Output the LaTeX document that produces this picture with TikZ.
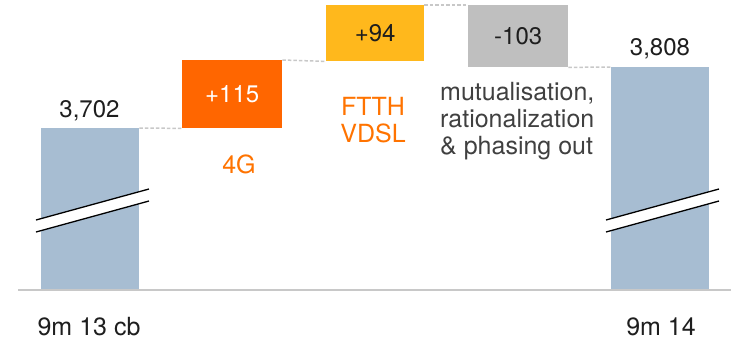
\documentclass[tikz,border=0pt]{standalone}
\usepackage{fontspec}
\setmainfont{TeX Gyre Heros}
\definecolor{barblue}{HTML}{A7BDD2}
\definecolor{boxorange}{HTML}{FF6600}
\definecolor{txtorange}{HTML}{FF7300}
\definecolor{boxyellow}{HTML}{FFB81C}
\definecolor{boxgrey}{HTML}{BFBFBF}
\definecolor{axisgrey}{HTML}{C8C8C8}
\definecolor{darktext}{HTML}{1E1E1E}
\definecolor{softtext}{HTML}{404040}
\tikzset{
  bar/.style={fill=barblue, draw=none, inner sep=0pt, anchor=north west},
  stepbox/.style={draw=none, inner sep=0pt, anchor=north west, font=\fontsize{24}{27}\selectfont},
  vallabel/.style={font=\fontsize{24}{27}\selectfont, text=darktext, inner sep=0pt, anchor=base},
  periodlabel/.style={font=\fontsize{25}{27}\selectfont, text=darktext, inner sep=0pt, anchor=base},
  notelabel/.style={font=\fontsize{25}{27}\selectfont, inner sep=0pt},
  conn/.style={draw=axisgrey, line width=1.5pt, dash pattern=on 3.5pt off 2pt},
  breakline/.style={draw=black, line width=1.3pt},
}
\begin{document}
\begin{tikzpicture}[x=1pt, y=-1pt]
\useasboundingbox (0,0) rectangle (734,341);

% axis
\coordinate (axL) at (18,290);
\coordinate (axR) at (731,290);

% start and end bars
\node[bar, minimum width=98pt, minimum height=162pt] (b1) at (41,128) {};
\node[bar, minimum width=98pt, minimum height=223pt] (b2) at (611,67) {};

% step boxes
\node[stepbox, fill=boxorange, text=white, minimum width=100pt, minimum height=68pt] (o) at (182,60) {+115};
\node[stepbox, fill=boxyellow, text=darktext, minimum width=98pt, minimum height=56pt] (y) at (326,5) {+94};
\node[stepbox, fill=boxgrey, text=darktext, minimum width=100pt, minimum height=62pt] (g) at (468,5) {-103};

\draw[draw=axisgrey, line width=1.5pt] (axL) -- (axR);

% dashed links between steps
\draw[conn] (b1.north east) -- (o.south west);
\draw[conn] (o.north east) -- (y.south west);
\draw[conn] (y.north east) -- (g.north west);
\draw[conn] (g.south east) -- (b2.north west);

% axis breaks
\fill[white] (36,220) -- (149,189) -- (149,201) -- (36,232) -- cycle;
\draw[breakline] (36,220) -- (149,189) (36,232) -- (149,201);
\fill[white] (606,220) -- (719,189) -- (719,201) -- (606,232) -- cycle;
\draw[breakline] (606,220) -- (719,189) (606,232) -- (719,201);

% values
\node[vallabel] (v1) at (89.5,117) {3,702};
\node[vallabel] (v2) at (660,55) {3,808};

% driver notes
\node[notelabel, text=txtorange, anchor=base] (n1) at (239,173) {4G};
\node[notelabel, text=txtorange, anchor=base] (n2a) at (373,115) {FTTH};
\node[notelabel, text=txtorange, anchor=base] (n2b) at (373,142) {VDSL};
\node[notelabel, text=softtext, anchor=base west] (n3a) at (440,100) {mutualisation,};
\node[notelabel, text=softtext, anchor=base west] (n3b) at (440,127) {rationalization};
\node[notelabel, text=softtext, anchor=base west] (n3c) at (440,154) {\& phasing out};

% period labels
\node[periodlabel] (p1) at (89,335) {9m 13 cb};
\node[periodlabel] (p2) at (661,335) {9m 14};
\end{tikzpicture}
\end{document}
